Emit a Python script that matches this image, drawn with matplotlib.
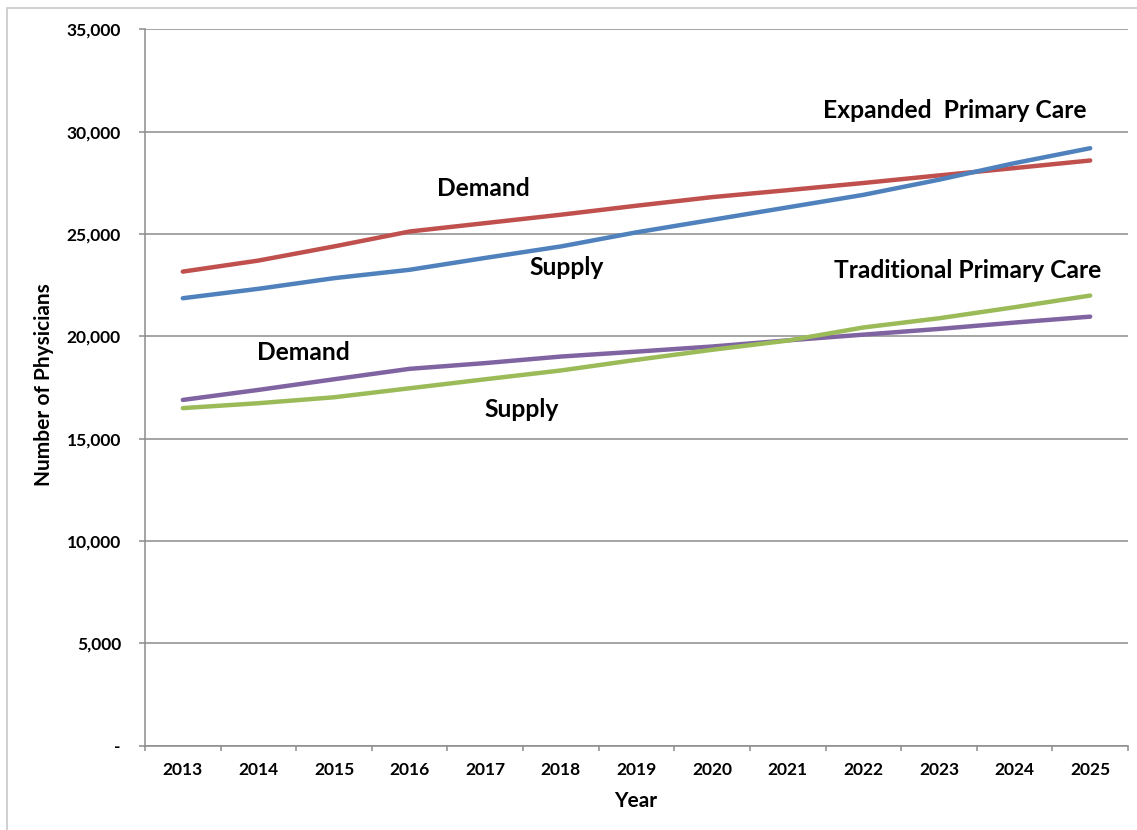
import matplotlib
matplotlib.use("Agg")
import matplotlib.pyplot as plt
from matplotlib.patches import Rectangle
from matplotlib.ticker import FuncFormatter, FixedLocator

years = ["2013", "2014", "2015", "2016", "2017", "2018", "2019",
         "2020", "2021", "2022", "2023", "2024", "2025"]

expanded_demand = [23160, 23700, 24390, 25120, 25530, 25940, 26380,
                   26800, 27140, 27490, 27860, 28220, 28590]
expanded_supply = [21860, 22320, 22840, 23250, 23830, 24390, 25080,
                   25690, 26300, 26910, 27650, 28460, 29190]
traditional_demand = [16890, 17380, 17900, 18410, 18690, 19010, 19250,
                      19500, 19800, 20080, 20360, 20670, 20960]
traditional_supply = [16490, 16730, 17020, 17460, 17900, 18330, 18850,
                      19340, 19790, 20430, 20880, 21420, 21990]

y_ticks = [0, 5000, 10000, 15000, 20000, 25000, 30000, 35000]

FONT = "Lato"
GRID = "#8c8c8c"

fig = plt.figure(figsize=(11.37, 8.30), dpi=100)
fig.add_artist(Rectangle((7 / 1137, -0.1), 1.2, 1 - 8 / 830 + 0.1,
                         transform=fig.transFigure, fill=False,
                         edgecolor="#c8c8c8", linewidth=1.2))

ax = fig.add_axes([145 / 1137, 1 - 745.6 / 830, (1128 - 145) / 1137, (745.6 - 29.3) / 830])

x = list(range(len(years)))
series = [
    (expanded_demand, "#C0504D"),
    (expanded_supply, "#4F81BD"),
    (traditional_demand, "#8064A2"),
    (traditional_supply, "#9BBB59"),
]
for vals, color in series:
    ax.plot(x, vals, color=color, linewidth=3.2, solid_capstyle="round",
            solid_joinstyle="round", zorder=3)

ax.set_xlim(-0.5, len(years) - 0.5)
ax.set_ylim(0, 35000)

ax.set_yticks(y_ticks)
ax.yaxis.set_major_formatter(FuncFormatter(lambda v, p: "-" if v == 0 else f"{int(v):,}"))
ax.grid(axis="y", color=GRID, linewidth=1.1, zorder=0)

ax.set_xticks(x)
ax.set_xticklabels(years)
ax.xaxis.set_minor_locator(FixedLocator([i - 0.5 for i in range(len(years) + 1)]))
ax.tick_params(axis="x", which="major", length=0, pad=12)
ax.tick_params(axis="x", which="minor", length=3.6, color=GRID, width=1.1)
ax.tick_params(axis="y", length=4.3, color=GRID, width=1.1, pad=13)

for lbl in ax.get_xticklabels() + ax.get_yticklabels():
    lbl.set_fontfamily(FONT)
    lbl.set_fontweight("bold")
    lbl.set_fontsize(12.5)

for side in ["top", "right"]:
    ax.spines[side].set_visible(False)
for side in ["left", "bottom"]:
    ax.spines[side].set_color(GRID)
    ax.spines[side].set_linewidth(1.1)

ax.set_xlabel("Year", fontfamily=FONT, fontweight="bold", fontsize=15)
ax.set_ylabel("Number of Physicians", fontfamily=FONT, fontweight="bold", fontsize=15)
ax.xaxis.set_label_coords(0.5 + (636 - 636.5) / 983, (745.6 - 801) / 716.3)
ax.xaxis.label.set_va("center")
ax.yaxis.set_label_coords((44 - 145) / 983, (745.6 - 385) / 716.3)
ax.yaxis.label.set_va("center")

text_kw = dict(fontfamily=FONT, fontweight="bold", fontsize=17.7, ha="center", va="center")
ax.text(10.21, 31020, "Expanded  Primary Care", **text_kw)
ax.text(3.97, 27210, "Demand", **text_kw)
ax.text(5.07, 23340, "Supply", **text_kw)
ax.text(10.38, 23200, "Traditional Primary Care", **text_kw)
ax.text(1.59, 19190, "Demand", **text_kw)
ax.text(4.48, 16410, "Supply", **text_kw)

fig.savefig("out.png", dpi=100)
